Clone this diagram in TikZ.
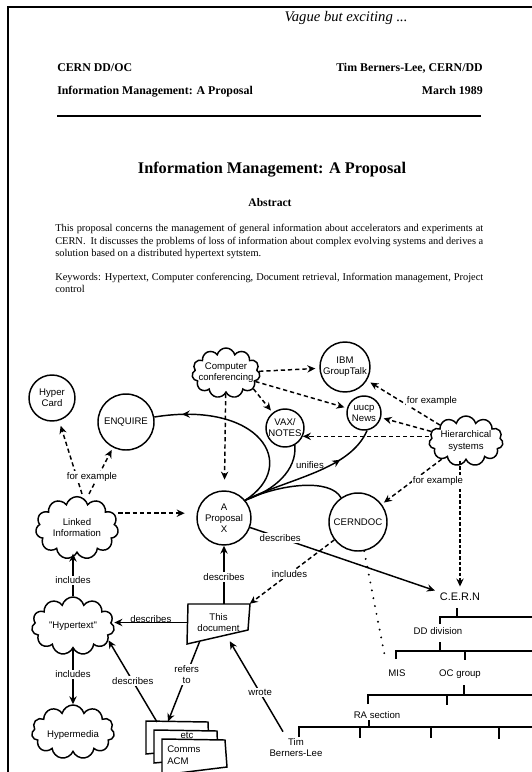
\documentclass[tikz,border=0pt]{standalone}
\usepackage{fontspec}
\setmainfont{Liberation Serif}
\newfontfamily\stencil{Liberation Sans}
\usetikzlibrary{shapes.symbols,arrows.meta,calc,decorations.markings}

\tikzset{
  lbl/.style={font=\stencil\fontsize{7.2}{8.3}\selectfont, align=center, inner sep=0.75pt},
  tag/.style={lbl, fill=white, inner sep=1pt},
  ring/.style={lbl, draw, circle, line width=1.1pt, inner sep=0pt},
  puff/.style={draw, cloud, cloud puffs=11, cloud ignores aspect, line width=1.1pt, inner sep=0pt},
  link/.style={line width=1.1pt, -{Stealth[length=6pt,width=5.5pt,inset=2pt]}},
  dlink/.style={link, dash pattern=on 3.2pt off 2.2pt},
  swoop/.style={line width=1.1pt},
  midtip/.style={postaction={decorate, decoration={markings, mark=at position #1 with {\arrow{Stealth[length=6pt,width=5.5pt,inset=2pt]}}}}},
  chart/.style={line width=0.9pt},
  hdr/.style={font=\bfseries\fontsize{8.9}{11}\selectfont, inner sep=0pt},
}

\begin{document}
\begin{tikzpicture}[x=0.75pt,y=0.75pt,yscale=-1,xscale=1]
\useasboundingbox (0,0) rectangle (532,772);

% Frame
\draw[line width=1.9pt] (532,7) -- (8,7) -- (8,772);

% Text Node
\node[font=\itshape\fontsize{11}{12}\selectfont, inner sep=0pt] (note) at (346,18) {Vague but exciting ...};
% Text Node
\node[hdr, anchor=base west] (dept) at (57,71) {CERN DD/OC};
% Text Node
\node[hdr, anchor=base west] (subj) at (57,94.5) {Information Management: A Proposal};
% Text Node
\node[hdr, anchor=base east] (auth) at (483,71) {Tim Berners-Lee, CERN/DD};
% Text Node
\node[hdr, anchor=base east] (date) at (483,94.5) {March 1989};
\draw[line width=0.8pt] (57,116) -- (481,116);

% Text Node
\node[font=\bfseries\fontsize{12.2}{14}\selectfont, inner sep=0pt, anchor=base] (title) at (272,173.5) {Information Management: A Proposal};
% Text Node
\node[font=\bfseries\fontsize{8.7}{10}\selectfont, inner sep=0pt, anchor=base] (abst) at (270,206.5) {Abstract};
% Text Node
\node[anchor=north west, text width=321pt, align=justify, inner sep=0pt, font=\fontsize{7.8}{9.4}\selectfont] (para) at (55,224) {This proposal concerns the management of general information about accelerators and experiments at\linebreak CERN.\ \ It discusses the problems of loss of information about complex evolving systems and derives a\linebreak solution based on a distributed hypertext sytstem.};
% Text Node
\node[anchor=north west, text width=321pt, align=justify, inner sep=0pt, font=\fontsize{7.8}{9.4}\selectfont] (keyw) at (55,272.5) {Keywords: Hypertext, Computer conferencing, Document retrieval, Information management, Project\linebreak control};

% Circles
\node[ring, minimum size=34.5pt] (hcard) at (52,398) {Hyper\\Card};
\node[ring, minimum size=42pt] (enq) at (126,422) {ENQUIRE};
\node[ring, minimum size=37.5pt] (ibm) at (345,367) {IBM\\GroupTalk};
\node[ring, minimum size=25.5pt] (uucp) at (364,413) {uucp\\News};
\node[ring, minimum size=28.5pt] (vax) at (285,428) {VAX/\\NOTES};
\node[ring, minimum size=40.5pt] (prop) at (224,518) {A\\Proposal\\X};
\node[ring, minimum size=43.5pt] (cdoc) at (358,522) {CERNDOC};

% Clouds
\node[puff, minimum width=51pt, minimum height=37.5pt] (cc) at (226,373) {};
\node[lbl] (cc-t) at (cc) {Computer\\conferencing};
\node[puff, minimum width=55.5pt, minimum height=37.5pt] (hier) at (466,441) {};
\node[lbl] (hier-t) at (hier) {Hierarchical\\systems};
\node[puff, minimum width=62pt, minimum height=47pt] (link) at (77,528) {};
\node[lbl] (link-t) at (link) {Linked\\Information};
\node[puff, minimum width=62pt, minimum height=43.5pt] (ht) at (73,626) {};
\node[lbl] (ht-t) at (ht) {"Hypertext"};
\node[puff, minimum width=62pt, minimum height=40.5pt] (hm) at (73,732) {};
\node[lbl] (hm-t) at (73,735) {Hypermedia};

% This document
\draw[line width=1.1pt, fill=white] (188,604) -- (250,604) -- (248,630) -- (187,644) -- cycle;
\node[lbl, minimum width=46.5pt, minimum height=27.75pt] (doc) at (218.5,622.5) {This\\document};

% Pages
\draw[line width=1.1pt, fill=white] (146,721) -- (208,722) -- (209,748) -- (146,754) -- cycle;
\draw[line width=1.1pt, fill=white] (154,730) -- (217,731) -- (218,757) -- (154,763) -- cycle;
\node[lbl] (etc) at (187,735) {etc};
\draw[line width=1.1pt, fill=white] (162,739) -- (225,740) -- (227,767) -- (162,775) -- cycle;
\node[lbl, align=left, anchor=north west] (acm) at (166,745) {Comms\\ACM};
\coordinate (acm-in) at (168,721.5);
\coordinate (acm-out) at (157,722);

% Org chart
\node[lbl, font=\stencil\fontsize{8.2}{9}\selectfont] (cern) at (460,597) {C.E.R.N};
\node[lbl] (ddiv) at (438,631) {DD division};
\node[lbl] (mis) at (397,673) {MIS};
\node[lbl] (ocg) at (460,674) {OC group};
\node[lbl] (ra) at (377,715) {RA section};
\node[lbl] (tim) at (296,748) {Tim\\Berners-Lee};
\draw[chart] (457,608) -- (457,617) (440,624) -- (440,617) -- (532,617);
\draw[chart] (440,642) -- (440,651) (396,659) -- (396,651) -- (532,651) (465,651) -- (465,660);
\draw[chart] (464,685) -- (464,695) (368,704) -- (368,695) -- (532,695) (447,695) -- (447,705);
\draw[chart] (369,720) -- (369,727) (299,737) -- (299,727) -- (532,727) (360,727) -- (360,738) (431,727) -- (431,738) (499,727) -- (499,739);
\draw[line width=1.6pt, line cap=round, dash pattern=on 0pt off 6pt, shorten >=8pt] (cdoc.-78) -- (mis.north west);

% Dashed arrows
\draw[dlink, shorten >=3pt] (cc) -- (ibm);
\draw[dlink, shorten >=2pt] (cc) -- (uucp);
\draw[dlink, shorten >=2pt] (cc.-30) -- (vax);
\draw[dlink, shorten >=8pt] (cc) -- (prop);
\draw[dlink, shorten >=3pt] (hier) -- (ibm);
\draw[dlink, shorten >=2pt] (hier) -- (uucp);
\draw[dlink] (hier.west |- vax.-25) -- (vax.-25);
\draw[dlink, shorten >=2pt] (hier) -- (cdoc);
\draw[dlink, dash pattern=on 2.6pt off 1.6pt, shorten >=4pt] (cern.north |- hier.south) -- (cern.north);
\draw[dlink, shorten >=4pt] ($(link.north)+(5,-2)$) -- (hcard);
\draw[dlink, shorten >=2pt] ($(link.north)+(12,-2)$) -- (enq);
\draw[dlink, shorten >=9pt] (link.east |- prop.170) -- (prop.170);
\draw[dlink] (cdoc) -- node[tag, pos=0.53] (inc2) {includes} (doc.north east);

% Labels
\node[tag] (fe1) at (432,401) {for example};
\node[tag] (fe2) at (438,481) {for example};
\node[tag] (fe3) at (92,477) {for example};

% Solid arrows
\draw[link] (ht.north) -- node[tag, pos=0.37] (inc1) {includes} (ht.north |- link.south);
\draw[link] (ht.south) -- node[tag, pos=0.46] (inc3) {includes} (ht.south |- hm.north);
\draw[link] (doc.west) -- node[lbl, anchor=base, inner sep=0pt] (des1) {describes} (doc.west -| ht.east);
\draw[link] (prop.south |- doc.north) -- node[tag, pos=0.46] (des2) {describes} (prop);
\draw[link, shorten >=3pt] (prop.-20) -- node[tag, pos=0.16] (des3) {describes} (cern.north west);
\draw[link] (acm-out) -- node[tag, pos=0.5] (des4) {describes} (ht.-22);
\draw[link] ($(doc.south west)!0.2!(doc.south east)$) -- node[tag, pos=0.41] (ref) {refers\\to} (acm-in);
\draw[link] ($(tim.north)+(-13,-6)$) -- node[tag, pos=0.43] (wrote) {wrote} ($(doc.south west)!0.68!(doc.south east)$);

% Unifies
\draw[swoop, midtip=0.85] (prop.40) .. controls (300,465) and (260,400) .. (enq.10);
\draw[swoop] (prop.40) .. controls (275,490) and (297,470) .. (vax.-60);
\draw[swoop, midtip=0.72] (prop.40) .. controls (290,478) and (350,470) .. (uucp.-80);
\draw[swoop] (prop.40) .. controls (280,484) and (330,478) .. (cdoc.125);
\node[lbl] (uni) at (310,465) {unifies};

\end{tikzpicture}
\end{document}
